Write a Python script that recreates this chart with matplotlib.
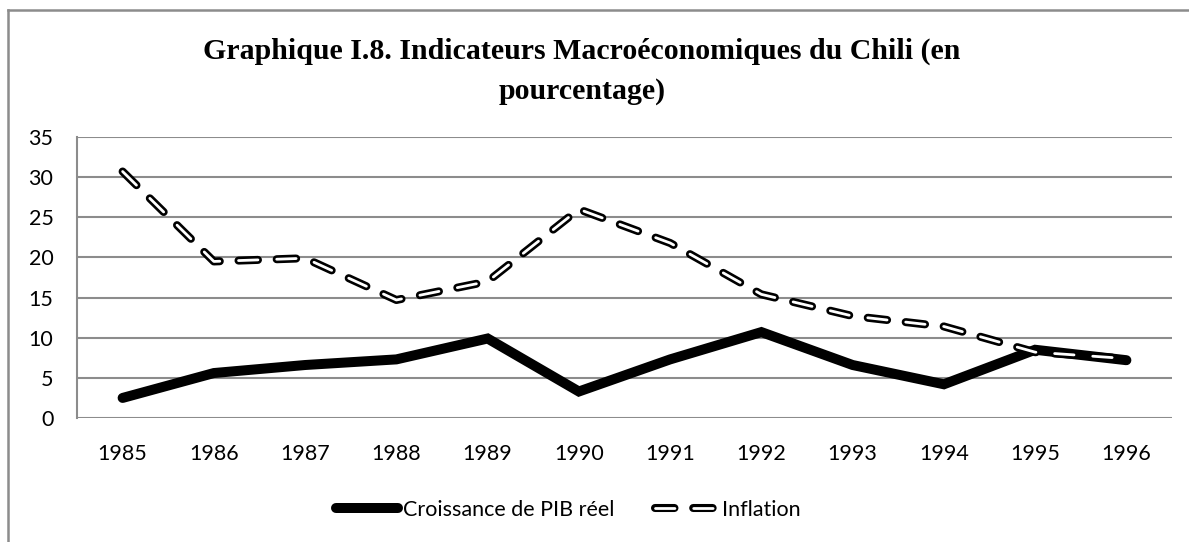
import matplotlib
matplotlib.use("Agg")
import matplotlib.pyplot as plt
from matplotlib.lines import Line2D
import matplotlib.patheffects as pe

years = ["1985", "1986", "1987", "1988", "1989", "1990", "1991", "1992", "1993", "1994", "1995", "1996"]
pib = [2.5, 5.6, 6.6, 7.3, 9.9, 3.3, 7.3, 10.7, 6.6, 4.2, 8.5, 7.2]
inflation = [30.7, 19.5, 19.9, 14.7, 17.0, 26.0, 21.8, 15.4, 12.7, 11.4, 8.2, 7.4]
yticks = [0, 5, 10, 15, 20, 25, 30, 35]

plt.rcParams['lines.scale_dashes'] = False
W, H = 1189, 542
fig = plt.figure(figsize=(W / 100, H / 100), dpi=100)

ax = fig.add_axes([77 / W, 1 - 418 / H, (1172 - 77) / W, (418 - 137) / H])
x = list(range(len(years)))
grid_c = "#8c8c8c"

ax.plot(x, pib, color="black", lw=7.2, solid_capstyle="round", solid_joinstyle="miter",
        label="Croissance de PIB réel", zorder=3)
ax.plot(x, inflation, color="white", lw=2.0, dashes=(14, 13.5), dash_capstyle="round",
        label="Inflation", zorder=4,
        path_effects=[pe.Stroke(linewidth=5.8, foreground="black"), pe.Normal()])

ax.set_xlim(-0.5, len(years) - 0.5)
ax.set_ylim(0, 35)
ax.set_yticks(yticks)
ax.set_xticks(x)
ax.set_xticklabels(years)
ax.tick_params(length=0, labelsize=15.5, colors="black")
ax.tick_params(axis="y", pad=17)
ax.tick_params(axis="x", pad=19)
for lab in ax.get_xticklabels() + ax.get_yticklabels():
    lab.set_fontfamily("Lato")
ax.grid(axis="y", color=grid_c, lw=1.5)
ax.set_axisbelow(True)
for s in ["top", "right", "bottom"]:
    ax.spines[s].set_visible(False)
ax.spines["left"].set_color(grid_c)
ax.spines["left"].set_linewidth(1.5)

# outer chart border
fig.add_artist(Line2D([8 / W, 1.0], [1 - 10 / H, 1 - 10 / H], color=grid_c, lw=1.8,
                      transform=fig.transFigure))
fig.add_artist(Line2D([8 / W, 8 / W], [1 - 10 / H, 0], color=grid_c, lw=1.8,
                      transform=fig.transFigure))

fig.text(582 / W, 1 - 71 / H,
         "Graphique I.8. Indicateurs Macroéconomiques du Chili (en\npourcentage)",
         ha="center", va="center", fontsize=21.5, fontweight="bold",
         family="Liberation Serif", linespacing=1.6)

h, l = ax.get_legend_handles_labels()
fig.legend(h, l, loc="center", bbox_to_anchor=(568 / W, 1 - 510 / H), ncol=2,
           frameon=False, prop={"family": "Lato", "size": 15.5}, handlelength=2.9,
           handletextpad=0.2, columnspacing=1.9)

fig.savefig("out.png", dpi=100)
